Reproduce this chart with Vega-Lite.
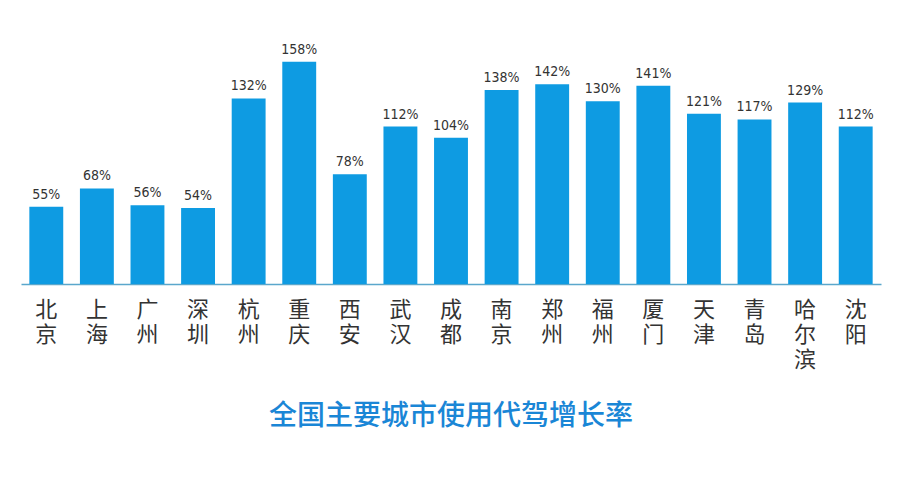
{
  "$schema": "https://vega.github.io/schema/vega-lite/v6.json",
  "width": 860,
  "height": 225,
  "autosize": "none",
  "padding": {"left": 21, "right": 19, "top": 59, "bottom": 198},
  "background": "white",
  "title": {
    "text": "全国主要城市使用代驾增长率",
    "orient": "bottom",
    "anchor": "middle",
    "offset": 33,
    "font": "Noto Sans CJK SC",
    "fontSize": 28,
    "fontWeight": 500,
    "color": "#1A86D6"
  },
  "data": {
    "values": [
      {"city": "北京", "rate": 0.55},
      {"city": "上海", "rate": 0.68},
      {"city": "广州", "rate": 0.56},
      {"city": "深圳", "rate": 0.54},
      {"city": "杭州", "rate": 1.32},
      {"city": "重庆", "rate": 1.58},
      {"city": "西安", "rate": 0.78},
      {"city": "武汉", "rate": 1.12},
      {"city": "成都", "rate": 1.04},
      {"city": "南京", "rate": 1.38},
      {"city": "郑州", "rate": 1.42},
      {"city": "福州", "rate": 1.30},
      {"city": "厦门", "rate": 1.41},
      {"city": "天津", "rate": 1.21},
      {"city": "青岛", "rate": 1.17},
      {"city": "哈尔滨", "rate": 1.29},
      {"city": "沈阳", "rate": 1.12}
    ]
  },
  "encoding": {
    "x": {
      "field": "city",
      "type": "nominal",
      "sort": null,
      "scale": {"paddingInner": 0.33, "paddingOuter": 0.165},
      "axis": {
        "title": null,
        "labelAngle": 0,
        "labelExpr": "split(datum.label, '')",
        "labelFont": "Noto Sans CJK SC",
        "labelFontSize": 22,
        "labelLineHeight": 25,
        "labelColor": "#333333",
        "labelBaseline": "top",
        "labelPadding": 15,
        "ticks": false,
        "domainColor": "#5AA7CC",
        "domainWidth": 1.5
      }
    },
    "y": {
      "field": "rate",
      "type": "quantitative",
      "scale": {"domain": [0, 1.6]},
      "axis": null
    }
  },
  "layer": [
    {"mark": {"type": "bar", "color": "#0E9BE2"}},
    {
      "mark": {
        "type": "text",
        "baseline": "bottom",
        "dy": -5,
        "font": "DejaVu Sans Condensed",
        "fontSize": 14,
        "color": "#333333"
      },
      "encoding": {"text": {"field": "rate", "type": "quantitative", "format": ".0%"}}
    }
  ],
  "config": {"view": {"stroke": null}}
}
